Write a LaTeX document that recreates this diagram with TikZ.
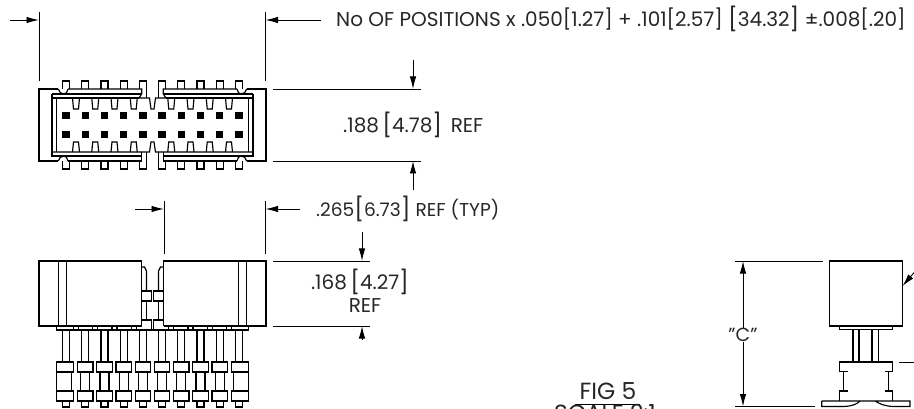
\documentclass[tikz,border=0pt]{standalone}
\usepackage{fontspec}
\setmainfont{Poppins}
\usetikzlibrary{arrows.meta}
\tikzset{
  part/.style={line width=1.15pt},
  dim/.style={line width=0.9pt},
  dimtext/.style={inner sep=0pt,font=\fontsize{20}{22}\selectfont,text=black!85},
}
\newcommand{\bigbk}[1]{{\fontsize{23}{23}\selectfont\raisebox{-0.5pt}{[}}#1{\fontsize{23}{23}\selectfont\raisebox{-0.5pt}{]}}}
\begin{document}
\begin{tikzpicture}[x=1pt,y=-1pt,>={Latex[length=12.5pt,width=6.5pt]}]
   \useasboundingbox (0,0) rectangle (914,409);
   % top view, both halves
   \foreach \mx/\ox in {1/0,-1/305}{
   \begin{scope}[shift={(\ox,0)},xscale=\mx]
      \draw[part] (58.3,89) -- (39,89) -- (39,161) -- (58.3,161);
      \draw[part] (68,89) -- (141.7,89) -- (141.7,94) -- (139,98) -- (149.5,98) -- (151,109) -- (152.5,109);
      \draw[part] (52,94) -- (141.7,94);
      \draw[part] (52,98) -- (139,98);
      \draw[part] (52,94) -- (52,156) -- (141.7,156);
      \draw[part] (52,152) -- (149.5,152) -- (151,142) -- (152.5,142);
      \draw[part] (56.7,98) -- (56.7,152);
      \draw[part] (68,161) -- (141.7,161) -- (141.7,152);
      \draw[part] (58.3,89) .. controls (59,92) and (61,94) .. (64,94) .. controls (66,94) and (67.5,92) .. (68,89);
      \draw[part] (58.3,161) .. controls (59,158) and (61,156) .. (64,156) .. controls (66,156) and (67.5,158) .. (68,161);
      \foreach \i in {0,...,4}{
         \pgfmathsetmacro\cx{66+19.25*\i}
         \draw[part] (\cx-3.5,89) -- (\cx-3.5,81) -- (\cx+3.5,81) -- (\cx+3.5,89);
         \draw[part] (\cx-3.5,161) -- (\cx-3.5,169) -- (\cx+3.5,169) -- (\cx+3.5,161);
         \fill (\cx-3.7,111.7) rectangle (\cx+3.7,119.2);
         \fill (\cx-3.7,131) rectangle (\cx+3.7,138.5);
      }
      \draw[part] (146.7,89) -- (146.7,98);
      \draw[part] (146.7,152) -- (146.7,161);
      \foreach \j in {0,...,3}{
         \pgfmathsetmacro\tx{76+19.25*\j}
         \draw[part] (\tx-3.5,98) -- (\tx-2.5,109) -- (\tx+2.5,109) -- (\tx+3.5,98);
         \draw[part] (\tx-3.5,152) -- (\tx-2.5,142) -- (\tx+2.5,142) -- (\tx+3.5,152);
      }
      % front view
      \draw[part] (141.5,326) -- (39,326) -- (39,261) -- (141.5,261) -- (141.5,326);
      \draw[part] (58.3,261) -- (58.3,326);
      \draw[part] (66.3,261) -- (66.3,326);
      \draw[part] (141.7,267) -- (144.5,267) -- (146.5,271) -- (146.5,291);
      \draw[part] (141.7,291) -- (151.3,291) -- (151.3,301) -- (141.7,301);
      \draw[part] (146.5,301) -- (146.5,320);
      \draw[part] (141.7,320) -- (151.3,320) -- (151.3,330);
      \draw[part] (56.7,326) -- (56.7,330) -- (152.5,330);
      \foreach \j in {0,...,3}{
         \pgfmathsetmacro\tx{76+19.25*\j}
         \draw[part] (\tx-2.5,326) -- (\tx-2.5,330);
         \draw[part] (\tx+2.5,326) -- (\tx+2.5,330);
      }
      \foreach \i in {0,...,4}{
         \pgfmathsetmacro\cx{66+19.25*\i}
         \draw[part] (\cx-3.5,330) -- (\cx-3.5,362);
         \draw[part] (\cx+3.5,330) -- (\cx+3.5,362);
         \draw[part] (\cx-3.5,401) -- (\cx-3.5,407) -- (\cx+3.5,407) -- (\cx+3.5,401);
      }
      \draw[part] (56.7,362) rectangle (73.3,372);
      \draw[part] (56.7,391) rectangle (73.3,401);
      \draw[part] (56.7,372) -- (56.7,391);
      \draw[part] (71.5,372) -- (71.5,391);
      \foreach \i in {1,...,4}{
         \pgfmathsetmacro\cx{66+19.25*\i}
         \draw[part] (\cx-7.7,362) rectangle (\cx+7.7,372);
         \draw[part] (\cx-7.7,391) rectangle (\cx+7.7,401);
         \draw[part] (\cx-4.5,372) -- (\cx-4.5,391);
         \draw[part] (\cx+4.5,372) -- (\cx+4.5,391);
      }
   \end{scope}
   }
   % dimensions of the top view
   \draw[dim] (39,12) -- (39,81);
   \draw[dim] (265.5,12) -- (265.5,81);
   \draw[->,dim] (10,20) -- (39,20);
   \draw[->,dim] (321,20) -- (265.5,20);
   \node[dimtext,anchor=base west] (posnote) at (336,27) {No OF POSITIONS x .050[1.27] + .101[2.57] \bigbk{34.32} ±.008[.20]};
   \draw[dim] (273,89) -- (421,89);
   \draw[dim] (273,161) -- (421,161);
   \draw[->,dim] (413,60) -- (413,89);
   \draw[->,dim] (413,190) -- (413,161);
   \node[dimtext,anchor=base west] (widthnote) at (343,133) {.188\,\bigbk{4.78}\, REF};
   % dimensions of the front view
   \draw[dim] (164,201) -- (164,254);
   \draw[dim] (265.5,201) -- (265.5,254);
   \draw[->,dim] (135,209) -- (164,209);
   \draw[->,dim] (300,209) -- (265.5,209);
   \node[dimtext,anchor=base west,font=\fontsize{18.6}{22}\selectfont] (pitchnote) at (316,217) {.265\bigbk{6.73} REF (TYP)};
   \draw[dim] (273,261) -- (370,261);
   \draw[dim] (273,326) -- (370,326);
   \draw[->,dim] (362,232) -- (362,261);
   \draw[->,dim] (362,340) -- (362,326);
   \node[dimtext,anchor=base] (heightnote) at (360,290) {.168\,\bigbk{4.27}};
   \node[dimtext,anchor=base] (refnote) at (365,312) {REF};
   % figure title
   \node[dimtext,anchor=base,font=\fontsize{23.4}{26}\selectfont] (figtitle) at (608,399) {FIG 5};
   \draw[dim] (575,404.5) -- (640,404.5);
   \node[dimtext,anchor=base,font=\fontsize{23.4}{26}\selectfont] (figscale) at (605,421.5) {SCALE 2:1};
   % side view
   \draw[dim] (735,261) -- (823,261);
   \draw[dim] (735,406.5) -- (815,406.5);
   \node[dimtext,font=\fontsize{19}{22}\selectfont] (cnote) at (743,335) {"C"};
   \draw[->,dim] (cnote.north) -- (743,261);
   \draw[->,dim] (cnote.south) -- (743,406.5);
   \draw[part] (829.5,261) rectangle (902.5,326);
   \draw[part] (839.5,326) -- (839.5,329.5) -- (892.5,329.5) -- (892.5,326);
   \foreach \px in {853,859,872,878.5}{
      \draw[part] (\px,329.5) -- (\px,362);
   }
   \draw[part] (847.5,371.5) -- (839.5,371.5) -- (839.5,362) -- (892.5,362) -- (892.5,371.5) -- (884.5,371.5);
   \draw[part] (843.5,371.5) -- (843.5,391);
   \draw[part] (888.5,371.5) -- (888.5,391);
   \draw[part] (847.5,391) -- (839.5,391) -- (839.5,401);
   \draw[part] (884.5,391) -- (892.5,391) -- (892.5,401);
   \draw[part] (821.7,401) -- (910,401) -- (910,406.5) -- (893,406.5) .. controls (884,406) and (880,404) .. (875,401);
   \draw[part] (821.7,401) -- (821.7,406.5) -- (844,406.5) .. controls (853,406) and (857,404) .. (860,401);
   \draw[->,dim] (918,268) -- (902.5,286);
   \draw[dim] (899,362.5) -- (914,362.5);
\end{tikzpicture}
\end{document}
